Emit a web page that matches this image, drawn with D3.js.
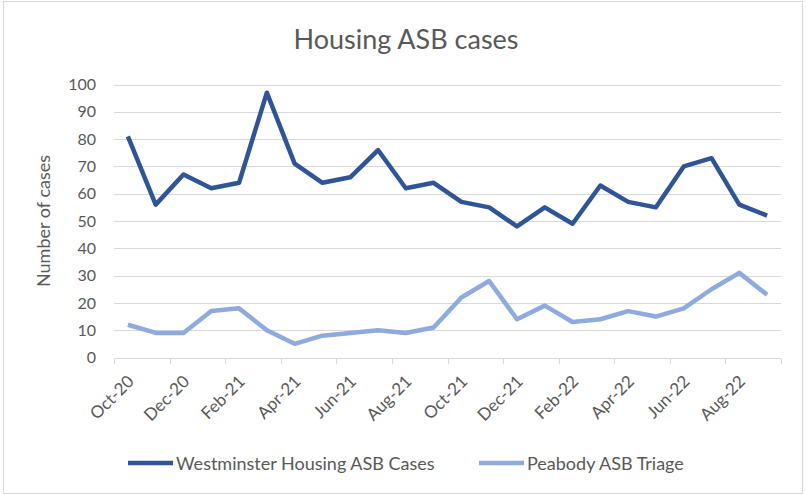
<!DOCTYPE html>
<html>
<head>
<meta charset="utf-8">
<script src="https://cdn.jsdelivr.net/npm/d3@7"></script>
<style>
  body { margin: 0; background: #fff; }
  text { font-family: Lato, "Open Sans", sans-serif; fill: #595959; }
</style>
</head>
<body>
<svg id="chart" width="806" height="495"></svg>
<script>
// ===========================//
// DATA
// ===========================//

var months = ["Oct-20","Nov-20","Dec-20","Jan-21","Feb-21","Mar-21","Apr-21","May-21","Jun-21","Jul-21","Aug-21","Sep-21",
              "Oct-21","Nov-21","Dec-21","Jan-22","Feb-22","Mar-22","Apr-22","May-22","Jun-22","Jul-22","Aug-22","Sep-22"]

var westminster = [81,56,67,62,64,97,71,64,66,76,62,64,57,55,48,55,49,63,57,55,70,73,56,52]
var peabody     = [12,9,9,17,18,10,5,8,9,10,9,11,22,28,14,19,13,14,17,15,18,25,31,23]

var seriesNames = ["Westminster Housing ASB Cases", "Peabody ASB Triage"]
var seriesColors = ["#2F5597", "#8FAADC"]
var yTicks = [0,10,20,30,40,50,60,70,80,90,100]

// ===========================//
// SETUP
// ===========================//

var svg = d3.select("#chart")

// outer frame
svg.append("rect")
  .attr("x", 3.5).attr("y", 1.5)
  .attr("width", 799).attr("height", 492)
  .attr("fill", "none")
  .attr("stroke", "#D9D9D9")

var plotLeft = 114, plotRight = 781, plotTop = 84.5, plotBottom = 357.5

var x = d3.scaleBand()
  .domain(months)
  .range([plotLeft, plotRight])

var y = d3.scaleLinear()
  .domain([0, 100])
  .range([plotBottom, plotTop])

// title
svg.append("text")
  .attr("x", 406).attr("y", 49)
  .attr("text-anchor", "middle")
  .style("font-size", "27px")
  .text("Housing ASB cases")

// gridlines
svg.append("g")
  .selectAll("line")
  .data(yTicks.filter(function(d){ return d > 0 }))
  .enter()
  .append("line")
    .attr("x1", plotLeft).attr("x2", plotRight)
    .attr("y1", function(d){ return Math.round(y(d)) + 0.5 })
    .attr("y2", function(d){ return Math.round(y(d)) + 0.5 })
    .attr("stroke", "#D9D9D9")

// y axis labels
var yAxis = svg.append("g")
  .attr("transform", "translate(" + (plotLeft - 18) + ",0)")
  .call(d3.axisLeft(y).tickValues(yTicks).tickSize(0).tickPadding(0))
yAxis.select(".domain").remove()
yAxis.selectAll("text")
  .style("font-size", "16px")
  .style("font-family", "Lato, sans-serif")
  .attr("fill", "#595959")

// y axis title
svg.append("text")
  .attr("transform", "translate(50," + ((plotTop + plotBottom) / 2) + ") rotate(-90)")
  .attr("text-anchor", "middle")
  .style("font-size", "18px")
  .text("Number of cases")

// x axis: baseline + ticks every 2 months
var xAxisG = svg.append("g")
xAxisG.append("line")
  .attr("x1", plotLeft).attr("x2", plotRight)
  .attr("y1", Math.round(plotBottom) + 0.5).attr("y2", Math.round(plotBottom) + 0.5)
  .attr("stroke", "#D9D9D9")

var tickPos = d3.range(0, months.length + 1, 2)
xAxisG.selectAll(".tick")
  .data(tickPos)
  .enter()
  .append("line")
    .attr("x1", function(i){ return Math.round(plotLeft + i * x.step()) + 0.5 })
    .attr("x2", function(i){ return Math.round(plotLeft + i * x.step()) + 0.5 })
    .attr("y1", Math.round(plotBottom) + 0.5)
    .attr("y2", Math.round(plotBottom) + 6)
    .attr("stroke", "#D9D9D9")

xAxisG.selectAll(".xlabel")
  .data(months.filter(function(d, i){ return i % 2 == 0 }))
  .enter()
  .append("text")
    .attr("class", "xlabel")
    .attr("text-anchor", "end")
    .attr("transform", function(d){
      return "translate(" + (x(d) + x.bandwidth() / 2 + 7) + "," + (plotBottom + 25) + ") rotate(-45)"
    })
    .style("font-size", "17px")
    .text(function(d){ return d })

// lines
var line = d3.line()
  .x(function(d, i){ return x(months[i]) + x.bandwidth() / 2 })
  .y(function(d){ return y(d) })

var allSeries = [westminster, peabody]

svg.append("g")
  .selectAll("path")
  .data(allSeries)
  .enter()
  .append("path")
    .attr("d", line)
    .attr("fill", "none")
    .attr("stroke", function(d, i){ return seriesColors[i] })
    .attr("stroke-width", 4.5)
    .attr("stroke-linejoin", "round")

// legend
var legendX = [128, 479]
var legend = svg.append("g")
  .selectAll("g")
  .data(seriesNames)
  .enter()
  .append("g")
    .attr("transform", function(d, i){ return "translate(" + legendX[i] + ",463)" })

legend.append("line")
  .attr("x1", 0).attr("x2", 45)
  .attr("stroke", function(d, i){ return seriesColors[i] })
  .attr("stroke-width", 4.5)

legend.append("text")
  .attr("x", 48).attr("y", 6.5)
  .style("font-size", "18px")
  .text(function(d){ return d })
</script>
</body>
</html>
